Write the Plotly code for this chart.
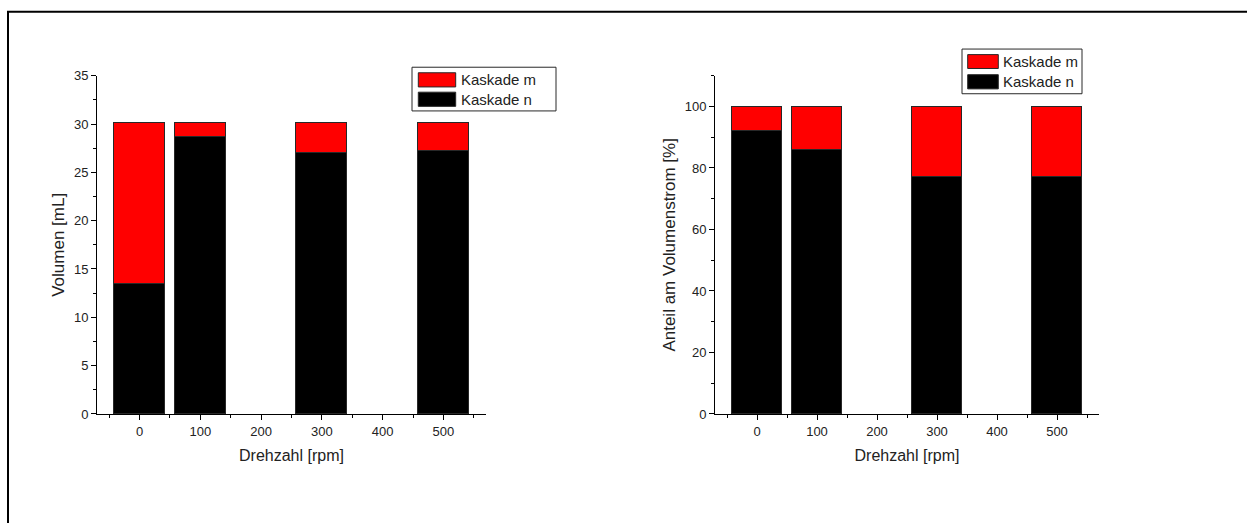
import plotly.graph_objects as go
from plotly.subplots import make_subplots

# ---- data ----
drehzahl = [0, 100, 300, 500]
vol_n = [13.5, 28.7, 27.0, 27.2]
vol_m = [16.65, 1.45, 3.15, 2.95]
anteil_n = [92, 86, 77, 77]
anteil_m = [8, 14, 23, 23]
series_names = ["Kaskade m", "Kaskade n"]
x_ticks = [0, 100, 200, 300, 400, 500]

W, H = 1247, 523
RED = "rgb(255,0,0)"
BLACK = "rgb(0,0,0)"
FONT = "Liberation Sans, Arial, sans-serif"


def px(x):
    return x / W


def py(y):
    return 1 - y / H


fig = make_subplots(rows=1, cols=2)

bar_line = dict(color="rgb(40,40,40)", width=1)
fig.add_trace(go.Bar(x=drehzahl, y=vol_n, name=series_names[1], marker=dict(color=BLACK, line=bar_line), width=84, showlegend=False), row=1, col=1)
fig.add_trace(go.Bar(x=drehzahl, y=vol_m, name=series_names[0], marker=dict(color=RED, line=bar_line), width=84, showlegend=False), row=1, col=1)
fig.add_trace(go.Bar(x=drehzahl, y=anteil_n, name=series_names[1], marker=dict(color=BLACK, line=bar_line), width=84, showlegend=False), row=1, col=2)
fig.add_trace(go.Bar(x=drehzahl, y=anteil_m, name=series_names[0], marker=dict(color=RED, line=bar_line), width=84, showlegend=False), row=1, col=2)

xaxis_common = dict(
    range=[-70, 570], tickvals=x_ticks, ticks="outside", ticklen=5, tickwidth=1, tickcolor="black",
    showline=True, linecolor="black", linewidth=1, showgrid=False, zeroline=False,
    minor=dict(ticks="outside", ticklen=3, tickwidth=1, tickcolor="black", dtick=50, tick0=-50, showgrid=False),
    tickfont=dict(family=FONT, size=13, color="#222"),
    title=dict(text="Drehzahl [rpm]", font=dict(family=FONT, size=16, color="#222"), standoff=12),
)
fig.update_xaxes(**xaxis_common)
fig.update_xaxes(domain=[px(97), px(486)], row=1, col=1)
fig.update_xaxes(domain=[px(715), px(1099)], row=1, col=2)

yaxis_common = dict(
    ticks="outside", ticklen=5, tickwidth=1, tickcolor="black",
    showline=True, linecolor="black", linewidth=1, showgrid=False, zeroline=False,
    tickfont=dict(family=FONT, size=13, color="#222"),
    domain=[py(419), py(70.7)],
)
fig.update_yaxes(**yaxis_common)
fig.update_yaxes(range=[0, 35], dtick=5, tick0=0,
                 minor=dict(ticks="outside", ticklen=3, tickwidth=1, tickcolor="black", dtick=2.5, tick0=0, showgrid=False),
                 title=dict(text="Volumen [mL]", font=dict(family=FONT, size=17, color="#222"), standoff=4),
                 row=1, col=1)
fig.update_yaxes(range=[0, 110], dtick=20, tick0=0,
                 minor=dict(ticks="outside", ticklen=3, tickwidth=1, tickcolor="black", dtick=10, tick0=0, showgrid=False),
                 title=dict(text="Anteil am Volumenstrom [%]", font=dict(family=FONT, size=17, color="#222"), standoff=4),
                 row=1, col=2)

shapes = []
annotations = []

# outer frame
shapes.append(dict(type="rect", xref="paper", yref="paper", x0=px(8), x1=1.02, y0=-0.02, y1=py(5),
                   line=dict(color="black", width=2), fillcolor="rgba(0,0,0,0)", layer="below"))


def add_legend(box, red_sw, black_sw, text_x):
    x0, y0, x1, y1 = box
    shapes.append(dict(type="rect", xref="paper", yref="paper", x0=px(x0), x1=px(x1), y0=py(y1), y1=py(y0),
                       line=dict(color="rgb(40,40,40)", width=1), fillcolor="white"))
    for sw, col, name in [(red_sw, RED, series_names[0]), (black_sw, BLACK, series_names[1])]:
        sx0, sy0, sx1, sy1 = sw
        shapes.append(dict(type="rect", xref="paper", yref="paper", x0=px(sx0), x1=px(sx1), y0=py(sy1), y1=py(sy0),
                           line=dict(color="rgb(40,40,40)", width=1), fillcolor=col))
        annotations.append(dict(xref="paper", yref="paper", x=px(text_x), y=py((sy0 + sy1) / 2),
                                text=name, showarrow=False, xanchor="left", yanchor="middle",
                                font=dict(family=FONT, size=15, color="#222")))


add_legend((412, 62, 556, 107), (418.3, 67.7, 455.7, 82.3), (418.3, 87.7, 455.7, 102.3), 459)
add_legend((962, 43.3, 1082, 89.3), (967.7, 49, 998.3, 63.3), (967.7, 69.7, 998.3, 84.3), 1001)

fig.update_layout(
    width=W, height=H, autosize=False, barmode="stack", bargap=0,
    margin=dict(l=0, r=0, t=0, b=0, pad=0),
    paper_bgcolor="white", plot_bgcolor="white",
    shapes=shapes, annotations=annotations, showlegend=False,
    font=dict(family=FONT, color="black"),
)

css_fix = (
    "document.documentElement.style.cssText='margin:0;padding:0;overflow:hidden;width:1247px;height:523px';"
    "document.body.style.cssText='margin:0;padding:0;overflow:hidden;width:1247px;height:523px';"
    "var gd=document.getElementsByClassName('plotly-graph-div')[0];"
    "gd.parentElement.style.cssText='position:absolute;left:0;top:0;margin:0;padding:0;width:1247px;height:523px';"
)

fig.write_html("out.html",
               config={"displayModeBar": False, "responsive": False},
               post_script=css_fix)
